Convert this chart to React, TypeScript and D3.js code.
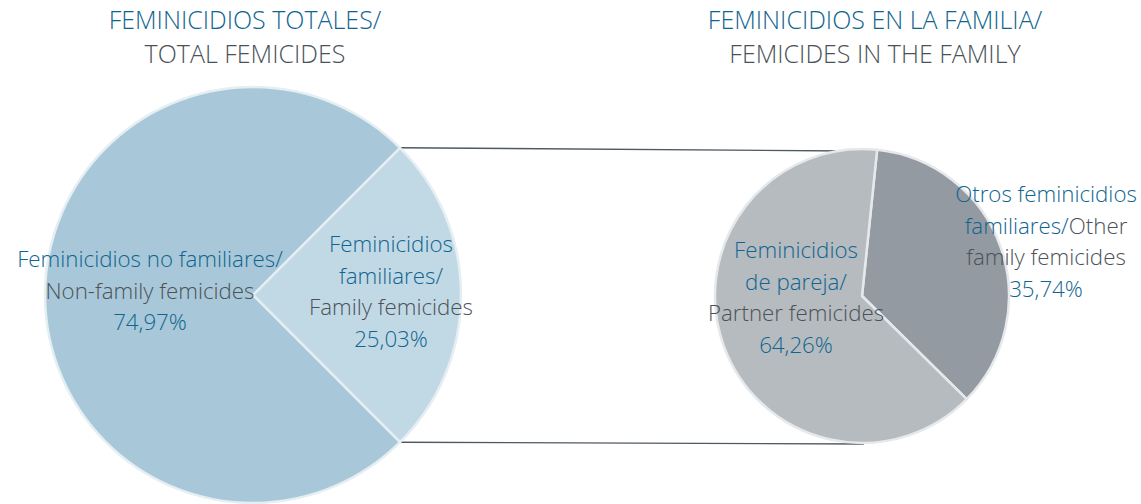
import React, { useRef, useEffect } from 'react';
import * as d3 from 'd3';

const W = 1141;
const H = 504;

// total femicides
const totalKeys = ['family', 'nonFamily'];
const totalValues = [25.03, 74.97];
const totalColors = ['#c1d9e5', '#a8c8d9'];

// femicides in the family
const familyKeys = ['other', 'partner'];
const familyValues = [35.74, 64.26];
const familyColors = ['#939aa1', '#b5bbbf'];

const titleLeft = ['FEMINICIDIOS TOTALES/', 'TOTAL FEMICIDES'];
const titleRight = ['FEMINICIDIOS EN LA FAMILIA/', 'FEMICIDES IN THE FAMILY'];

// label lines: [text, isSpanish]
type Seg = [string, boolean];
const labelNonFamily: Seg[][] = [[['Feminicidios no familiares/', true]], [['Non-family femicides', false]], [['74,97%', true]]];
const labelFamily: Seg[][] = [[['Feminicidios', true]], [['familiares/', true]], [['Family femicides', false]], [['25,03%', true]]];
const labelPartner: Seg[][] = [[['Feminicidios', true]], [['de pareja/', true]], [['Partner femicides', false]], [['64,26%', true]]];
const labelOther: Seg[][] = [[['Otros feminicidios', true]], [['familiares/', true], ['Other', false]], [['family femicides', false]], [['35,74%', true]]];

const BLUE = '#0f6590';
const GRAY = '#4c5258';
const FONT = '"Open Sans", "Noto Sans", sans-serif';

export default function App() {
  const svgRef = useRef<SVGSVGElement>(null);

  useEffect(() => {
    const svg = d3.select(svgRef.current);
    svg.selectAll('*').remove();

    const c1 = { x: 253, y: 295, r: 208 };
    const c2 = { x: 862, y: 296, r: 147 };

    const famShare = totalValues[0] / d3.sum(totalValues);
    const pieLeft = d3.pie<number>().sort(null)
      .startAngle(Math.PI / 2 - famShare * Math.PI)
      .endAngle(Math.PI / 2 - famShare * Math.PI + 2 * Math.PI);
    const pieRight = d3.pie<number>().sort(null)
      .startAngle(0.103)
      .endAngle(0.103 + 2 * Math.PI);

    const arc1 = d3.arc<d3.PieArcDatum<number>>().innerRadius(0).outerRadius(c1.r);
    const arc2 = d3.arc<d3.PieArcDatum<number>>().innerRadius(0).outerRadius(c2.r);

    const leftArcs = pieLeft(totalValues);
    const rightArcs = pieRight(familyValues);

    // connecting lines from family slice edges to the family pie
    const fam = leftArcs[0];
    const pt = (a: number, r: number, c: { x: number; y: number }) => [c.x + r * Math.sin(a), c.y - r * Math.cos(a)];
    const [tx, ty] = pt(fam.startAngle, c1.r, c1);
    const [bx, by] = pt(fam.endAngle, c1.r, c1);
    svg.append('line')
      .attr('x1', tx).attr('y1', ty)
      .attr('x2', c2.x - 14).attr('y2', c2.y - c2.r + 2)
      .attr('stroke', '#4f5961').attr('stroke-width', 1.4);
    svg.append('line')
      .attr('x1', bx).attr('y1', by)
      .attr('x2', c2.x + 2).attr('y2', c2.y + c2.r + 1)
      .attr('stroke', '#4f5961').attr('stroke-width', 1.4);

    const g1 = svg.append('g').attr('transform', `translate(${c1.x},${c1.y})`);
    g1.selectAll('path').data(leftArcs).join('path')
      .attr('d', arc1)
      .attr('fill', (_d, i) => totalColors[i])
      .attr('stroke', '#e4eef3')
      .attr('stroke-width', 2.5)
      .attr('stroke-linejoin', 'round');

    const g2 = svg.append('g').attr('transform', `translate(${c2.x},${c2.y})`);
    g2.selectAll('path').data(rightArcs).join('path')
      .attr('d', arc2)
      .attr('fill', (_d, i) => familyColors[i])
      .attr('stroke', '#e6e9eb')
      .attr('stroke-width', 2.5)
      .attr('stroke-linejoin', 'round');

    // titles
    const title = (lines: string[], x: number) => {
      lines.forEach((t, i) => {
        svg.append('text')
          .attr('x', x).attr('y', 29 + i * 34)
          .attr('text-anchor', 'middle')
          .attr('font-family', FONT)
          .attr('font-weight', 300)
          .attr('font-size', 25)
          .attr('fill', i === 0 ? BLUE : '#4a5259')
          .text(t);
      });
    };
    title(titleLeft, 245);
    title(titleRight, 875);

    const label = (lines: Seg[][], x: number, y0: number, lh: number) => {
      lines.forEach((segs, i) => {
        const t = svg.append('text')
          .attr('x', x).attr('y', y0 + i * lh)
          .attr('text-anchor', 'middle')
          .attr('font-family', FONT)
          .attr('font-weight', 300)
          .attr('font-size', 22.3);
        segs.forEach(([s, es]) => {
          t.append('tspan').attr('fill', es ? BLUE : GRAY).text(s);
        });
      });
    };
    label(labelNonFamily, 150, 267, 31.5);
    label(labelFamily, 391, 252, 31.6);
    label(labelPartner, 796, 258, 31.7);
    label(labelOther, 1046, 202, 31.7);
  }, []);

  return (
    <svg
      ref={svgRef}
      width={W}
      height={H}
      style={{ position: 'absolute', left: 0, top: 0, display: 'block', background: '#fff' }}
    />
  );
}
